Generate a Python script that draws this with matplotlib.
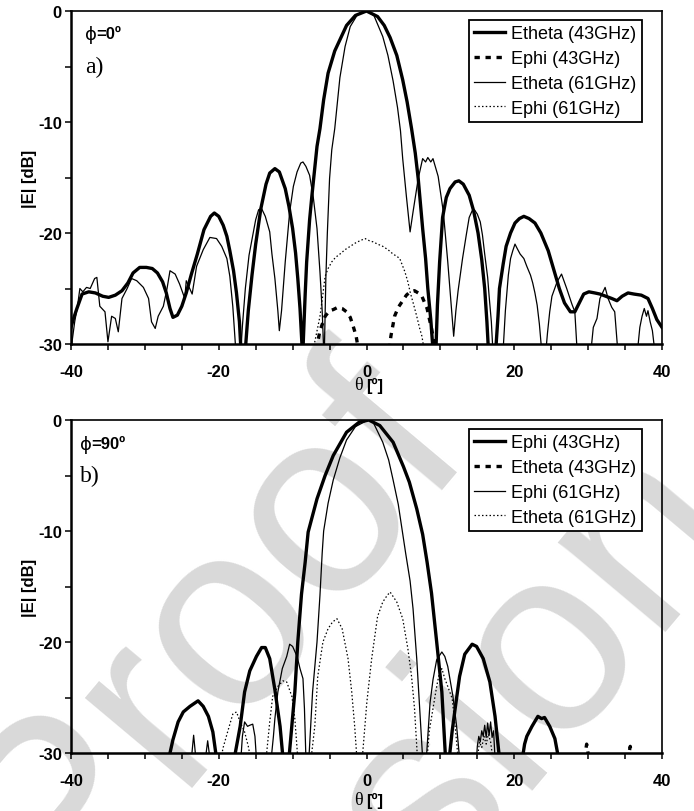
import numpy as np
import matplotlib
matplotlib.use("Agg")
import matplotlib.pyplot as plt

# ---------------- data (theta [deg], |E| [dB]) ----------------
# panel a) phi = 0 deg
a_etheta43 = [(-40, -28.5), (-39.7, -27.8), (-39.2, -26.8), (-38.5, -25.5), (-37.6, -25.3), (-36.7, -25.4),
              (-35.7, -25.7), (-34.9, -25.8), (-34.0, -25.6), (-33.1, -25.2), (-32.3, -24.5), (-31.6, -23.6),
              (-30.7, -23.1), (-29.8, -23.1), (-29.0, -23.2), (-28.3, -23.6), (-27.6, -24.4), (-27.1, -25.4),
              (-26.6, -26.8), (-26.2, -27.6), (-25.6, -27.4), (-25.0, -26.6), (-24.4, -25.4), (-23.7, -23.7),
              (-22.9, -21.9), (-22.0, -19.7), (-21.1, -18.5), (-20.6, -18.2), (-20.0, -18.5), (-19.4, -19.3),
              (-18.9, -20.3), (-18.5, -21.6), (-18.0, -23.4), (-17.6, -25.4), (-17.2, -28.0), (-17.0, -30.5),
              (-16.4, -30.5), (-16.0, -27.0), (-15.5, -23.8), (-15.0, -21.0), (-14.3, -17.8), (-13.6, -15.6),
              (-13.1, -14.6), (-12.4, -14.2), (-11.8, -14.5), (-11.0, -16.0), (-10.5, -17.6), (-10.0, -19.6),
              (-9.6, -21.8), (-9.3, -24.1), (-9.0, -26.8), (-8.7, -30.5), (-8.6, -30.5), (-8.3, -25.5),
              (-8.1, -22.6), (-7.7, -18.8), (-7.4, -16.7), (-6.7, -12.2), (-6.3, -10.6), (-5.8, -8.0),
              (-5.2, -5.6), (-4.3, -3.6), (-3.6, -2.6), (-2.7, -1.3), (-1.5, -0.4), (0.0, 0.0), (1.5, -0.5),
              (2.4, -1.3), (3.2, -2.4), (4.1, -4.0), (4.9, -6.2), (5.5, -8.2), (6.1, -10.6), (6.6, -12.8),
              (7.0, -15.1), (7.6, -19.6), (8.0, -22.3), (8.3, -25.0), (8.7, -27.8), (9.0, -30.5),
              (9.4, -30.5), (9.6, -26.5), (9.9, -22.6), (10.3, -18.6), (10.8, -16.8), (11.3, -16.0),
              (12.0, -15.4), (12.5, -15.3), (13.1, -15.6), (13.9, -16.6), (14.5, -18.0), (15.1, -20.0),
              (15.6, -22.4), (16.0, -25.0), (16.3, -28.0), (16.5, -30.5), (17.5, -30.5), (17.8, -27.5),
              (18.0, -25.0), (18.5, -22.8), (18.9, -21.2), (19.5, -20.0), (20.1, -19.1), (20.7, -18.7),
              (21.3, -18.5), (22.0, -18.7), (22.8, -19.1), (23.6, -20.0), (24.6, -21.6), (25.3, -23.2),
              (26.1, -25.0), (26.8, -26.3), (27.6, -27.1), (28.2, -27.1), (28.8, -26.3), (29.4, -25.5),
              (30.1, -25.3), (30.9, -25.4), (31.6, -25.5), (32.4, -25.7), (33.2, -25.9), (33.9, -26.1),
              (34.6, -25.7), (35.4, -25.4), (36.2, -25.5), (37.2, -25.6), (38.1, -25.9), (38.7, -26.8),
              (39.3, -27.8), (40.0, -28.5)]

a_ephi43 = [(-6.8, -30.5), (-6.3, -28.8), (-5.6, -27.5), (-5.0, -27.0), (-4.5, -26.9), (-3.9, -26.7),
            (-3.3, -26.8), (-2.7, -27.1), (-2.2, -27.6), (-1.8, -28.4), (-1.4, -29.3), (-1.1, -30.5),
            (3.1, -30.5), (3.3, -29.3), (3.8, -27.5), (4.3, -26.7), (4.8, -26.2), (5.4, -25.6), (5.9, -25.3),
            (6.5, -25.2), (7.0, -25.4), (7.5, -25.7), (8.2, -26.8), (8.8, -28.6), (9.3, -30.5)]

a_etheta61 = [(-40, -29.8), (-39.9, -30.0), (-39.5, -28.0), (-39.1, -26.5), (-38.8, -25.0), (-38.4, -25.3),
              (-37.9, -24.9), (-37.4, -25.0), (-36.8, -24.1), (-36.5, -24.0), (-36.1, -26.6), (-35.4, -27.1),
              (-35.0, -29.8), (-34.5, -27.5), (-34.0, -27.7), (-33.6, -28.9), (-33.1, -25.9), (-32.4, -25.0),
              (-31.8, -24.1), (-31.1, -24.3), (-30.2, -24.9), (-29.5, -25.9), (-29.1, -28.0), (-28.6, -28.6),
              (-28.2, -27.5), (-27.5, -26.6), (-27.0, -25.0), (-26.6, -23.4), (-25.9, -23.7), (-25.3, -24.6),
              (-24.6, -25.9), (-24.4, -24.3), (-23.6, -25.5), (-23.0, -23.0), (-22.1, -21.5), (-21.2, -20.4),
              (-20.3, -20.5), (-19.6, -21.2), (-18.9, -22.3), (-18.5, -23.9), (-18.1, -26.6), (-17.7, -30.5),
              (-17.0, -30.5), (-16.8, -28.4), (-16.4, -25.0), (-15.9, -22.0), (-15.5, -20.6), (-15.0, -18.8),
              (-14.6, -17.9), (-14.2, -17.8), (-13.7, -18.5), (-13.1, -19.9), (-12.8, -21.9), (-12.4, -24.1),
              (-12.0, -27.0), (-11.8, -28.8), (-11.5, -27.0), (-11.0, -22.6), (-10.4, -18.1), (-9.9, -15.8),
              (-9.4, -14.5), (-8.9, -13.7), (-8.6, -13.6), (-8.2, -14.0), (-7.7, -14.8), (-7.2, -16.8),
              (-6.7, -19.6), (-6.3, -23.5), (-6.0, -27.0), (-5.8, -30.5), (-5.7, -30.5), (-5.5, -24.0),
              (-5.3, -20.0), (-5.0, -15.1), (-4.7, -12.5), (-4.3, -10.6), (-3.6, -6.0), (-2.9, -3.2),
              (-2.2, -1.4), (-1.2, -0.3), (0.0, 0.0), (1.0, -0.4), (2.2, -2.3), (2.9, -4.0), (3.6, -6.3),
              (4.2, -8.7), (4.6, -10.8), (4.9, -13.3), (5.4, -16.7), (5.9, -19.9), (6.3, -18.1), (7.0, -15.1),
              (7.6, -13.3), (8.0, -13.6), (8.3, -13.2), (8.7, -13.6), (9.0, -13.3), (9.3, -14.0), (9.7, -14.9),
              (10.4, -18.1), (11.0, -22.6), (11.4, -26.0), (11.8, -29.3), (12.1, -27.0), (12.4, -25.2),
              (13.0, -22.3), (13.5, -20.2), (13.9, -18.6), (14.3, -18.0), (14.6, -17.9), (15.0, -18.3),
              (15.4, -19.0), (15.7, -20.2), (16.0, -21.9), (16.4, -24.0), (16.6, -25.7), (16.9, -28.0),
              (17.1, -30.5), (18.5, -30.5), (18.8, -27.0), (19.2, -23.8), (19.5, -22.3), (19.8, -21.6),
              (20.1, -21.0), (20.4, -21.4), (20.8, -21.9), (21.3, -22.3), (21.7, -23.0), (22.2, -23.8),
              (22.5, -24.5), (22.8, -25.4), (23.1, -26.5), (23.4, -28.2), (23.7, -30.5), (24.3, -30.5),
              (24.5, -29.0), (24.8, -27.1), (25.1, -25.7), (25.8, -24.4), (26.4, -23.7), (27.1, -25.0),
              (27.8, -26.4), (28.2, -27.1), (28.5, -30.5), (30.4, -30.5), (30.7, -28.5), (31.2, -27.7),
              (31.6, -25.9), (32.3, -24.9), (32.7, -25.9), (33.2, -26.7), (33.6, -27.1), (34.0, -30.5),
              (36.7, -30.5), (37.0, -28.5), (37.3, -27.5), (37.6, -26.8), (37.9, -27.5), (38.1, -27.0),
              (38.4, -28.0), (38.7, -28.8), (39.0, -30.5)]

a_ephi61 = [(-7.3, -30.5), (-7.0, -29.8), (-6.6, -28.5), (-6.3, -27.5), (-5.9, -25.5), (-5.6, -23.9),
            (-5.2, -23.2), (-4.7, -22.6), (-4.2, -22.2), (-3.6, -21.9), (-2.9, -21.5), (-2.2, -21.2),
            (-1.5, -20.9), (-0.9, -20.7), (-0.2, -20.5), (0.4, -20.7), (0.9, -20.8), (1.5, -21.0), (2.2, -21.2),
            (2.9, -21.5), (3.6, -21.9), (4.1, -22.1), (4.5, -22.3), (5.2, -23.5), (5.6, -24.4), (5.9, -25.3),
            (6.4, -26.5), (6.8, -27.5), (7.2, -28.6), (7.5, -29.3), (7.8, -30.5)]

# panel b) phi = 90 deg
b_ephi43 = [(-26.8, -30.5), (-26.6, -30.0), (-26.2, -28.8), (-25.5, -27.2), (-24.8, -26.3), (-23.9, -25.8),
            (-22.8, -25.3), (-22.1, -25.8), (-21.4, -26.7), (-20.8, -28.1), (-20.3, -30.5), (-17.9, -30.5),
            (-17.1, -27.6), (-16.5, -24.5), (-15.8, -22.6), (-14.9, -21.3), (-14.2, -20.5), (-13.7, -20.5),
            (-13.1, -21.5), (-12.4, -24.3), (-11.7, -27.6), (-11.3, -30.5), (-10.5, -30.5), (-10.1, -27.5),
            (-9.7, -24.5), (-9.3, -20.0), (-8.8, -15.7), (-8.3, -12.8), (-7.9, -10.1), (-6.7, -7.1),
            (-5.6, -5.0), (-4.5, -3.2), (-2.7, -1.1), (-1.0, -0.2), (0.3, 0.0), (1.8, -0.5), (3.6, -2.0),
            (5.0, -4.2), (5.8, -5.6), (6.8, -8.0), (7.6, -10.3), (8.2, -12.8), (8.8, -15.6), (9.5, -20.0),
            (10.2, -24.5), (10.7, -30.5), (11.2, -30.5), (11.6, -28.0), (12.0, -26.0), (12.6, -23.1),
            (13.3, -21.1), (14.3, -20.2), (14.9, -20.4), (15.8, -21.5), (16.7, -23.6), (17.4, -26.7),
            (18.0, -30.5), (21.1, -30.5), (21.4, -29.2), (21.7, -28.5), (22.4, -27.6), (23.2, -26.7),
            (23.7, -26.9), (24.1, -26.8), (24.8, -27.6), (25.5, -28.7), (26.0, -30.5)]

b_etheta43 = [(29.5, -30.5), (29.8, -29.2), (30.1, -30.5), (35.4, -30.5), (35.7, -29.4), (36.0, -30.5)]

b_ephi61 = [(-23.7, -30.5), (-23.4, -28.4), (-23.1, -30.5), (-21.8, -30.5), (-21.5, -28.9), (-21.2, -30.5),
            (-17.0, -30.5), (-16.8, -28.5), (-16.5, -27.2), (-16.1, -27.6), (-15.8, -27.5), (-15.4, -27.4),
            (-15.1, -28.5), (-14.9, -30.5), (-12.9, -30.5), (-12.6, -28.5), (-12.4, -26.9), (-12.0, -24.5),
            (-11.4, -22.4), (-10.8, -21.3), (-10.4, -20.2), (-10.0, -20.4), (-9.4, -21.3), (-9.0, -22.4),
            (-8.6, -23.3), (-8.4, -26.0), (-8.2, -30.5), (-7.8, -30.5), (-7.3, -24.5), (-6.7, -20.0),
            (-6.3, -15.8), (-6.0, -12.0), (-5.8, -10.0), (-5.2, -7.5), (-4.5, -5.4), (-3.6, -3.4),
            (-2.7, -1.8), (-1.5, -0.6), (0.2, 0.0), (0.9, -0.2), (2.2, -2.0), (3.0, -3.6), (3.6, -5.4),
            (4.3, -7.6), (4.8, -9.8), (5.3, -12.0), (5.9, -14.5), (6.3, -17.0), (6.8, -21.5), (7.2, -26.0),
            (7.6, -30.5), (8.1, -30.5), (8.3, -28.5), (8.6, -25.5), (9.0, -23.4), (9.5, -21.6), (10.2, -20.9),
            (10.6, -21.3), (11.0, -22.2), (11.7, -24.9), (12.2, -27.6), (12.6, -30.5), (14.9, -30.5),
            (15.0, -29.4), (15.2, -28.5), (15.4, -29.0), (15.6, -28.0), (15.8, -28.5), (16.0, -27.5),
            (16.2, -28.6), (16.4, -27.3), (16.6, -28.4), (16.8, -27.2), (17.0, -28.6), (17.2, -28.0),
            (17.4, -30.5)]

b_etheta61 = [(-19.7, -30.5), (-19.4, -29.5), (-18.8, -28.1), (-18.1, -26.5), (-17.6, -26.3), (-17.1, -27.2),
              (-16.5, -28.1), (-16.0, -29.4), (-15.7, -30.5), (-13.7, -30.5), (-13.5, -29.9), (-13.1, -27.2),
              (-12.7, -24.9), (-12.0, -24.0), (-11.3, -23.5), (-10.8, -23.6), (-10.1, -24.9), (-9.7, -26.9),
              (-9.3, -30.5), (-7.5, -30.5), (-7.0, -27.6), (-6.6, -23.1), (-5.9, -20.0), (-5.2, -18.8),
              (-4.6, -18.2), (-4.0, -17.9), (-3.3, -18.8), (-2.5, -21.5), (-2.0, -24.5), (-1.6, -27.6),
              (-1.3, -30.5), (-0.6, -30.5), (-0.5, -29.9), (0.05, -25.4), (0.7, -21.5), (1.5, -17.7),
              (2.2, -16.4), (2.8, -15.8), (3.2, -15.5), (3.6, -15.9), (4.1, -16.4), (4.9, -17.9), (5.6, -20.6),
              (6.1, -23.1), (6.5, -26.0), (6.9, -30.5), (8.2, -30.5), (8.5, -28.0), (9.0, -26.0), (9.5, -24.0),
              (9.8, -23.0), (10.2, -22.4), (10.6, -23.3), (11.0, -24.0), (11.6, -25.1), (12.0, -27.6),
              (12.4, -30.5), (15.0, -30.5), (15.3, -29.0), (15.6, -29.5), (15.9, -28.5), (16.2, -29.2),
              (16.5, -28.3), (16.8, -29.0), (17.1, -30.5)]

labels_a = ["Etheta (43GHz)", "Ephi (43GHz)", "Etheta (61GHz)", "Ephi (61GHz)"]
labels_b = ["Ephi (43GHz)", "Etheta (43GHz)", "Ephi (61GHz)", "Etheta (61GHz)"]
x_ticks = list(range(-40, 41, 5))
y_ticks = list(range(-30, 1, 5))

# ---------------- styling ----------------
SANS = ["Liberation Sans", "DejaVu Sans"]
plt.rcParams["font.family"] = SANS
styles = [dict(color="black", lw=2.4, ls="-"),
          dict(color="black", lw=2.4, ls=(0, (1.6, 1.7))),
          dict(color="black", lw=0.9, ls="-"),
          dict(color="black", lw=0.9, ls=(0, (1.2, 1.8)))]

W, H = 694, 812
fig = plt.figure(figsize=(W / 100, H / 100), dpi=100)

def px_axes(l, t, r, b):
    return fig.add_axes([l / W, 1 - b / H, (r - l) / W, (b - t) / H])

# watermark (two words, light grey, behind everything; anchored at baseline start)
wm = dict(rotation=50, fontsize=191, color="#d9d9d9", ha="left", va="baseline",
          family=SANS, zorder=-10, rotation_mode="anchor")
fig.text(60 / W, 1 - 920 / H, "Proof", **wm)
fig.text(181 / W, 1 - 1209 / H, "Version", **wm)

panels = [
    dict(box=(71, 12, 662, 345), series=[a_etheta43, a_ephi43, a_etheta61, a_ephi61], labels=labels_a,
         phi="=0º", tag="a)", phix=85, phiy=35, tagy=67, xlab_y=386),
    dict(box=(71, 421, 662, 754), series=[b_ephi43, b_etheta43, b_ephi61, b_etheta61], labels=labels_b,
         phi="=90º", tag="b)", phix=80, phiy=445, tagy=476, xlab_y=801),
]

for p in panels:
    l, t, r, b = p["box"]
    ax = px_axes(l, t, r, b)
    ax.set_facecolor("none")
    handles = []
    for data, st, lab in zip(p["series"], styles, p["labels"]):
        arr = np.array(data, dtype=float)
        h, = ax.plot(arr[:, 0], arr[:, 1], color=st["color"], lw=st["lw"], ls=st["ls"], label=lab,
                     solid_joinstyle="round", dash_capstyle="butt")
        handles.append(h)
    ax.set_xlim(-40, 40)
    ax.set_ylim(-30, 0)
    ax.set_xticks(x_ticks)
    ax.set_xticklabels([str(v) if v % 20 == 0 else "" for v in x_ticks])
    ax.set_yticks(y_ticks)
    ax.set_yticklabels([str(v) if v % 10 == 0 else "" for v in y_ticks])
    ax.tick_params(direction="out", length=4.5, width=1.1, labelsize=12, pad=2)
    ax.tick_params(axis="x", pad=10)
    for lb in ax.get_xticklabels() + ax.get_yticklabels():
        lb.set_fontweight("bold")
    for side in ("left", "bottom"):
        ax.spines[side].set_linewidth(1.8)
    for side in ("top", "right"):
        ax.spines[side].set_linewidth(1.2)
    ax.set_ylabel("|E| [dB]", fontsize=12, fontweight="bold")
    ax.yaxis.set_label_coords(-0.058, 0.5)
    hh = b - t
    # x label: theta regular + [º] bold
    yl = (b - p["xlab_y"]) / hh
    ax.text(0.494, yl, "θ", transform=ax.transAxes, ha="right", va="center", fontsize=13,
            family=["Liberation Serif", "DejaVu Serif"])
    ax.text(0.500, yl, "[º]", transform=ax.transAxes, ha="left", va="center", fontsize=12,
            fontweight="bold")
    # phi annotation and panel tag
    px = (p["phix"] - l) / (r - l)
    ax.text(px, (b - p["phiy"]) / hh, "ϕ", transform=ax.transAxes, ha="left", va="center", fontsize=13,
            family=["DejaVu Sans"])
    ax.text(px + 0.019, (b - p["phiy"]) / hh, p["phi"], transform=ax.transAxes, ha="left", va="center",
            fontsize=12, fontweight="bold")
    ax.text(px, (b - p["tagy"]) / hh, p["tag"], transform=ax.transAxes, ha="left", va="center",
            fontsize=17, family=["Liberation Serif", "DejaVu Serif"])
    leg = ax.legend(handles=handles, loc="upper right", bbox_to_anchor=(0.966, 0.973),
                    borderaxespad=0, fontsize=13, frameon=True, fancybox=False, framealpha=1,
                    edgecolor="black", borderpad=0.3, handlelength=1.7, handletextpad=0.35,
                    labelspacing=0.43)
    leg.get_frame().set_linewidth(1.3)

fig.savefig("out.png", dpi=100)
